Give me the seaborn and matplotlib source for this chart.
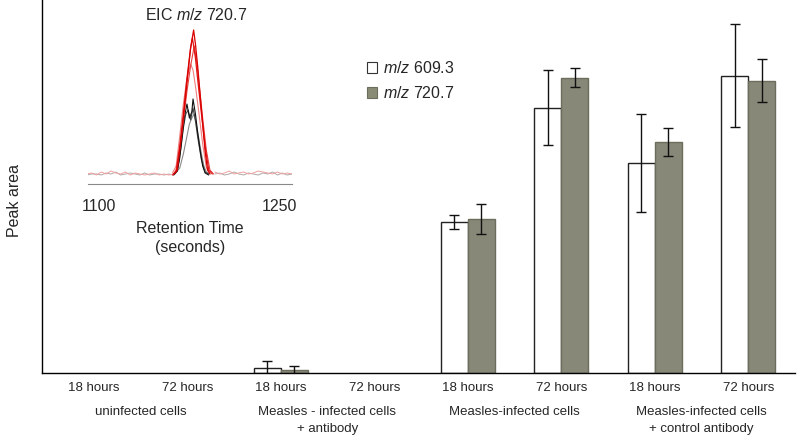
import matplotlib
matplotlib.use("Agg")
import matplotlib.pyplot as plt
import matplotlib.transforms as mtransforms
from matplotlib.patches import Patch
from matplotlib.container import BarContainer
import seaborn as sns
import pandas as pd
import numpy as np

# ---------------- data ----------------
time_labels = ["18 hours", "72 hours", "18 hours", "72 hours",
               "18 hours", "72 hours", "18 hours", "72 hours"]
group_labels = ["uninfected cells",
                "Measles - infected cells\n+ antibody",
                "Measles-infected cells",
                "Measles-infected cells\n+ control antibody"]
series_names = ["m/z 609.3", "m/z 720.7"]
mz609 = [0, 0, 5, 0, 151, 265, 210, 297]
mz609_err = [0, 0, 7, 0, 7, 37.5, 49, 51.5]
mz720 = [0, 0, 3, 0, 154, 295, 231, 292]
mz720_err = [0, 0, 4, 0, 15, 9.5, 14, 21.5]

# inset chromatogram traces (retention time s, intensity)
base_t = [1090, 1094, 1098, 1102, 1106, 1110, 1114, 1118, 1122, 1126, 1130,
          1134, 1138, 1142, 1146, 1150, 1154, 1158, 1162,
          1192, 1196, 1200, 1204, 1208, 1212, 1216, 1220, 1224, 1228, 1232,
          1236, 1240, 1244, 1248, 1252, 1256, 1260]
pink_i = [2, 3, 1, 4, 2, 5, 3, 2, 4, 1, 3, 2, 1, 2, 3, 1, 2, 1, 2,
          None, 4, 2, 3, 5, 2, 3, 4, 2, 3, 5, 4, 3, 2, 4, 2, 3, 2]
grey_i = [1, 2, 2, 1, 3, 2, 4, 1, 2, 3, 2, 1, 3, 1, 2, 2, 1, 2, 1,
          None, 2, 3, 1, 2, 4, 2, 1, 3, 2, 1, 3, 2, 4, 1, 3, 1, 2]
red_t1 = [1162, 1165, 1168, 1171, 1174, 1176, 1178.5, 1180, 1182, 1184, 1186, 1188, 1190, 1192]
red_i1 = [2, 6, 35, 70, 105, 128, 146, 132, 108, 80, 52, 25, 6, 2]
red_t2 = [1161, 1164, 1167, 1170, 1173, 1176, 1177.5, 1180, 1182, 1185, 1188, 1191, 1194]
red_i2 = [1, 4, 30, 62, 98, 128, 138, 118, 95, 62, 30, 6, 2]
red_t3 = [1162, 1164, 1167, 1170, 1173, 1176, 1179, 1181, 1183, 1186, 1189, 1192, 1195]
red_i3 = [2, 6, 28, 55, 85, 110, 130, 114, 92, 58, 26, 6, 2]
red_t4 = [1161, 1164, 1167, 1170, 1173, 1176, 1178, 1180, 1183, 1186, 1189, 1192]
red_i4 = [3, 10, 40, 72, 98, 112, 106, 90, 62, 32, 9, 3]
blk_t1 = [1162, 1165, 1167, 1169, 1171, 1173, 1175, 1177, 1178, 1180, 1182, 1184, 1186, 1188, 1191]
blk_i1 = [1, 5, 18, 40, 60, 72, 58, 64, 77, 62, 42, 25, 10, 3, 1]
blk_t2 = [1162, 1165, 1168, 1170, 1172, 1174, 1176, 1178, 1180, 1182, 1185, 1188, 1191]
blk_i2 = [2, 6, 28, 48, 62, 66, 56, 68, 55, 38, 16, 4, 2]
gry_t1 = [1163, 1167, 1170, 1173, 1175, 1177, 1179, 1181, 1183, 1185, 1187, 1189, 1192]
gry_i1 = [2, 8, 22, 40, 52, 58, 62, 50, 36, 22, 10, 4, 2]

# ---------------- style ----------------
sns.set_theme(style="white")
plt.rcParams["font.family"] = ["Liberation Sans", "DejaVu Sans"]
plt.rcParams["mathtext.fontset"] = "custom"
plt.rcParams["mathtext.it"] = "Liberation Sans:italic"
plt.rcParams["mathtext.rm"] = "Liberation Sans"

grey = "#898b75"
grey_edge = "#6c6d5c"

df = pd.DataFrame({
    "cat": list(range(8)) * 2,
    "series": [series_names[0]] * 8 + [series_names[1]] * 8,
    "value": mz609 + mz720,
})

fig = plt.figure(figsize=(8, 4.4), dpi=100)
ax = fig.add_axes([42 / 800, 1 - 373 / 440, 753 / 800, 373 / 440])

sns.barplot(data=df, x="cat", y="value", hue="series", order=list(range(8)),
            hue_order=series_names, palette=["white", grey], width=0.58,
            gap=0, dodge=True, errorbar=None, legend=False, ax=ax)

errs = [mz609_err, mz720_err]
vals = [mz609, mz720]
edges = ["#222222", grey_edge]
bar_conts = [c for c in ax.containers if isinstance(c, BarContainer)]
for k, cont in enumerate(bar_conts):
    xs = []
    for p in cont.patches:
        p.set_edgecolor(edges[k])
        p.set_linewidth(1.0)
        if p.get_height() == 0:
            p.set_visible(False)
        xs.append(p.get_x() + p.get_width() / 2)
    xs = np.array(xs)
    v = np.array(vals[k], dtype=float)
    e = np.array(errs[k], dtype=float)
    m = e > 0
    ax.errorbar(xs[m], v[m], yerr=e[m], fmt="none", ecolor="#111111",
                elinewidth=1.0, capsize=3.5, capthick=1.0, zorder=5)

ax.set_xlim(-0.553, 7.5)
ax.set_ylim(0, 373)
ax.set_yticks([])
ax.set_xticks(range(8))
ax.set_xticklabels(time_labels, fontsize=9.5)
ax.tick_params(axis="x", length=0, pad=6.5)
ax.set_xlabel("")
ax.set_ylabel("")
for s in ["top", "right"]:
    ax.spines[s].set_visible(False)
for s in ["left", "bottom"]:
    ax.spines[s].set_color("black")
    ax.spines[s].set_linewidth(1.0)

fig.text(15 / 800, 1 - 200 / 440, "Peak area", rotation=90, fontsize=11.5,
         ha="center", va="center")

trans = mtransforms.blended_transform_factory(ax.transData, fig.transFigure)
for i, g in enumerate(group_labels):
    ax.text(2 * i + 0.5, 1 - 406 / 440, g, transform=trans, ha="center",
            va="top", fontsize=9.5, linespacing=1.5)

# legend
handles = [Patch(facecolor="white", edgecolor="#333333", linewidth=0.8),
           Patch(facecolor=grey, edgecolor=grey_edge, linewidth=0.8)]
labels = [r"$\it{m/z}$ 609.3", r"$\it{m/z}$ 720.7"]
fig.legend(handles, labels, loc="upper left",
           bbox_to_anchor=(361 / 800, 1 - 54 / 440), frameon=False,
           fontsize=11.5, handlelength=0.6, handleheight=0.7,
           handletextpad=0.35, labelspacing=0.55, borderaxespad=0)

# inset chromatogram
ins = fig.add_axes([88 / 800, 1 - 184 / 440, 204 / 800, 156 / 440])
ins.set_facecolor("none")
ins.plot(base_t, grey_i, color="#b0a8a8", lw=0.7)
ins.plot(base_t, pink_i, color="#f0a0a0", lw=0.7)
ins.plot(gry_t1, gry_i1, color="#8a8a8a", lw=0.8)
ins.plot(blk_t2, blk_i2, color="#444444", lw=0.8)
ins.plot(blk_t1, blk_i1, color="#111111", lw=0.8)
ins.plot(red_t4, red_i4, color="#f08080", lw=0.8)
ins.plot(red_t3, red_i3, color="#e84040", lw=0.8)
ins.plot(red_t2, red_i2, color="#e01818", lw=0.9)
ins.plot(red_t1, red_i1, color="#d80000", lw=0.9)
ins.set_xlim(1091, 1260)
ins.set_ylim(-8, 148)
ins.set_yticks([])
ins.set_xticks([1100, 1150, 1200, 1250])
ins.set_xticklabels(["1100", "", "", "1250"], fontsize=11.5)
ins.tick_params(axis="x", length=3, color="#888888", pad=8)
for s in ["top", "right", "left"]:
    ins.spines[s].set_visible(False)
ins.spines["bottom"].set_color("#888888")
ins.spines["bottom"].set_linewidth(0.8)
ins.set_title(r"EIC $\it{m/z}$ 720.7", fontsize=11.5, pad=6, x=0.53)
ins.set_xlabel("Retention Time\n(seconds)", fontsize=11.5, labelpad=5,
               linespacing=1.3)

fig.savefig("out.png", dpi=100)
